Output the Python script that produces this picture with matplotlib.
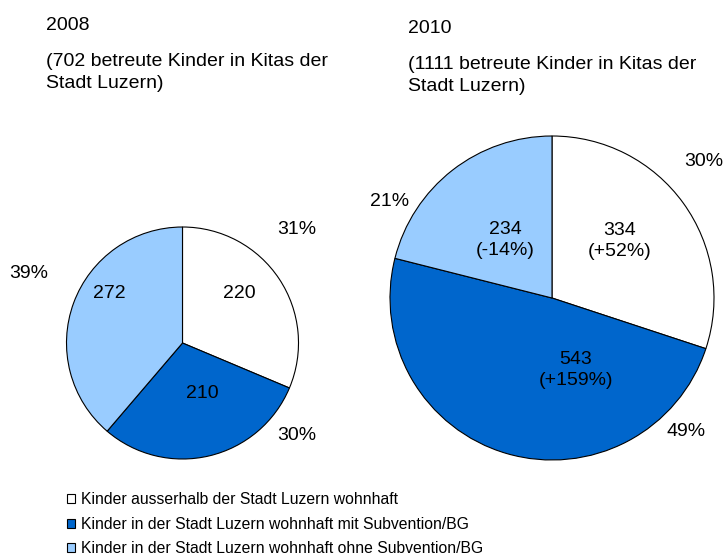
import matplotlib.pyplot as plt
from matplotlib.patches import Patch

plt.rcParams['font.family'] = ['Liberation Sans', 'DejaVu Sans']

# data
categories = ['Kinder ausserhalb der Stadt Luzern wohnhaft',
              'Kinder in der Stadt Luzern wohnhaft mit Subvention/BG',
              'Kinder in der Stadt Luzern wohnhaft ohne Subvention/BG']
years = ['2008', '2010']
values_2008 = [220, 210, 272]
values_2010 = [334, 543, 234]
colors = ['#FFFFFF', '#0066CC', '#99CCFF']

W, H = 725, 558


def py(y):
    # pixel row (from top) -> data y (from bottom)
    return H - y


fig = plt.figure(figsize=(W / 100, H / 100), dpi=100)
ax = fig.add_axes([0, 0, 1, 1])

wedge_kw = dict(edgecolor='black', linewidth=0.8)
ax.pie(values_2008, colors=colors, startangle=90, counterclock=False,
       center=(182.5, py(343)), radius=116, wedgeprops=wedge_kw)
ax.pie(values_2010, colors=colors, startangle=90, counterclock=False,
       center=(552, py(298)), radius=162, wedgeprops=wedge_kw)

ax.set_xlim(0, W)
ax.set_ylim(0, H)
ax.set_aspect('equal')
ax.axis('off')

fs = 14
tot08 = sum(values_2008)
tot10 = sum(values_2010)

# headers (one text per line, placed on the baseline)
ax.text(46, py(30), years[0], fontsize=fs, va='baseline')
ax.text(46, py(66), '(%d betreute Kinder in Kitas der' % tot08, fontsize=fs, va='baseline')
ax.text(46, py(88), 'Stadt Luzern)', fontsize=fs, va='baseline')
ax.text(408, py(33), years[1], fontsize=fs, va='baseline')
ax.text(408, py(69), '(%d betreute Kinder in Kitas der' % tot10, fontsize=fs, va='baseline')
ax.text(408, py(91), 'Stadt Luzern)', fontsize=fs, va='baseline')

# inner value labels
pos_in_08 = [(239, 293), (202, 394), (109, 293)]
for v, (x, y) in zip(values_2008, pos_in_08):
    ax.text(x, py(y), str(v), fontsize=fs, ha='center', va='center')

pos_in_10 = [(620, 241), (576, 370), (505, 240)]
for v, v0, (x, y) in zip(values_2010, values_2008, pos_in_10):
    ch = round((v / v0 - 1) * 100)
    ax.text(x, py(y), '%d\n(%+d%%)' % (v, ch), fontsize=fs, ha='center', va='center',
            linespacing=1.3)

# outer percent labels
pos_out_08 = [(297, 230), (297, 436), (29, 274)]
for v, (x, y) in zip(values_2008, pos_out_08):
    ax.text(x, py(y), '%d%%' % round(v / tot08 * 100), fontsize=fs, ha='center', va='center')

pos_out_10 = [(704, 162), (686, 432), (390, 201)]
for v, (x, y) in zip(values_2010, pos_out_10):
    ax.text(x, py(y), '%d%%' % round(v / tot10 * 100), fontsize=fs, ha='center', va='center')

handles = [Patch(facecolor=c, edgecolor='black', linewidth=0.8) for c in colors]
fig.legend(handles, categories, loc='upper left', bbox_to_anchor=(67 / W, 1 - 492 / H),
           frameon=False, fontsize=11.3, handlelength=0.5, handleheight=0.5,
           handletextpad=0.4, labelspacing=0.62, borderpad=0, borderaxespad=0)

fig.savefig('out.png', dpi=100)
